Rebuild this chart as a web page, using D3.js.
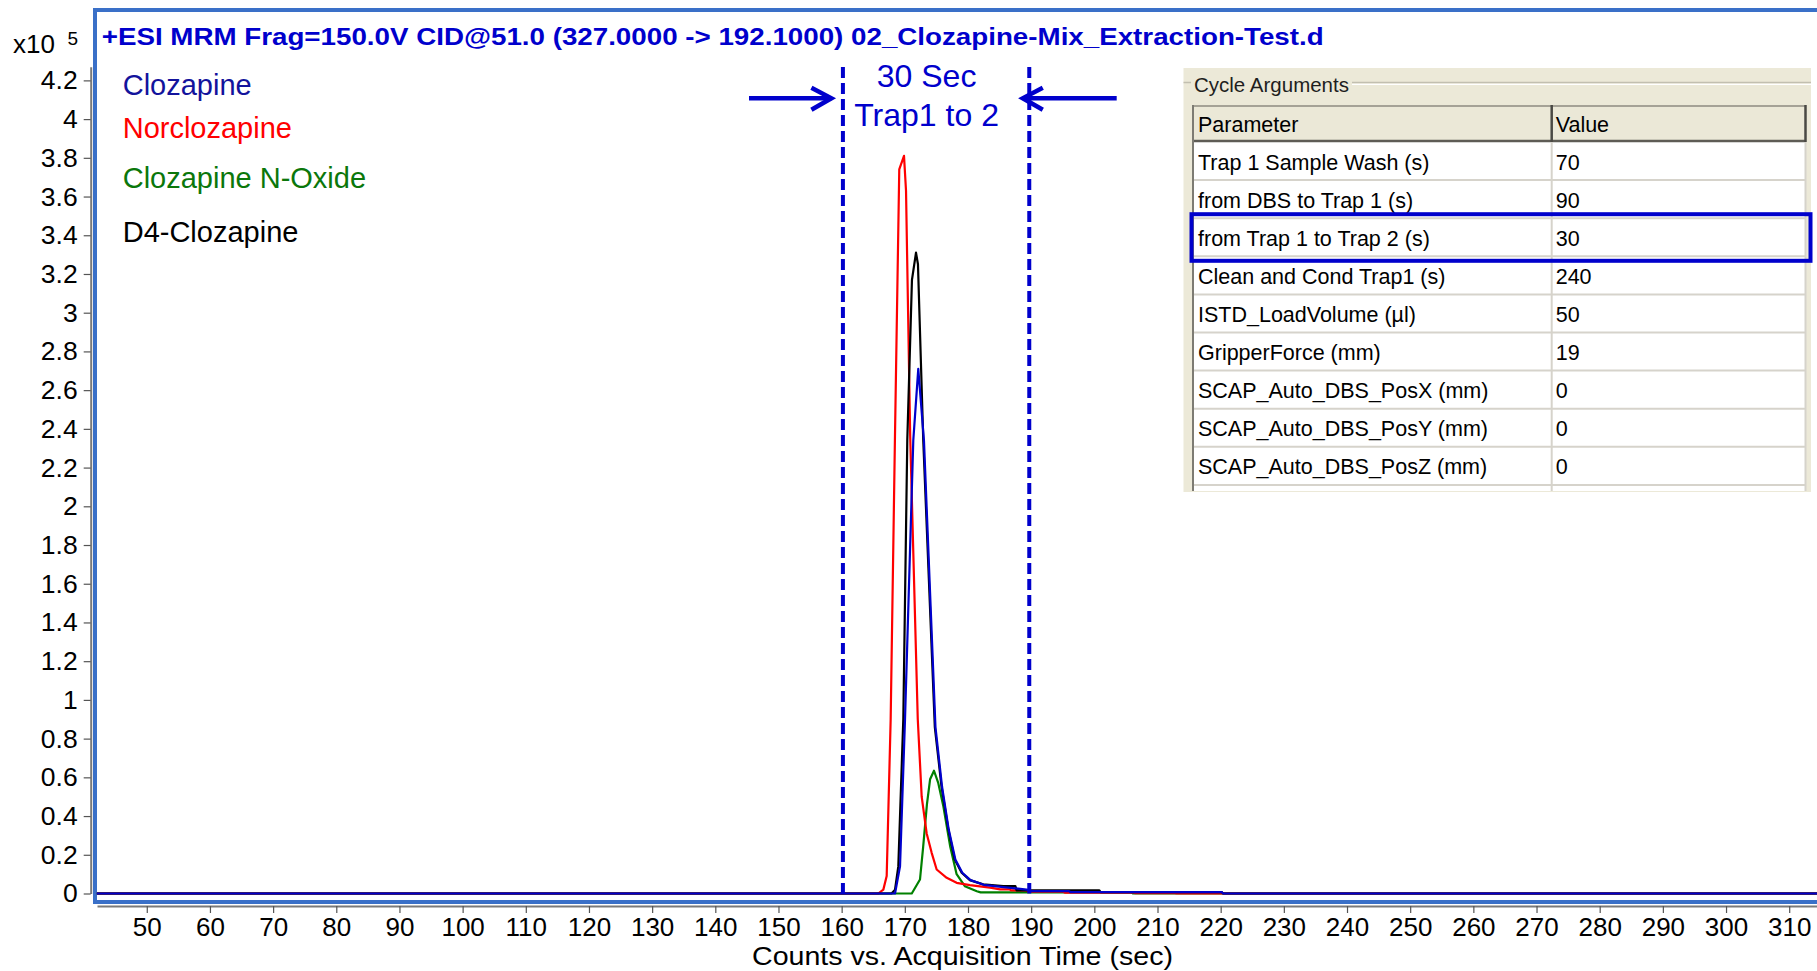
<!DOCTYPE html>
<html><head><meta charset="utf-8">
<script src="https://cdn.jsdelivr.net/npm/d3@7"></script>
<style>
html,body{margin:0;padding:0;background:#fff;}
svg{display:block;font-family:"Liberation Sans",Arial,Helvetica,sans-serif;}
</style></head><body>
<svg id="chart" width="1817" height="971"></svg>
<script>
// ---------------- DATA ----------------
const xTicks = [50,60,70,80,90,100,110,120,130,140,150,160,170,180,190,200,210,220,230,240,250,260,270,280,290,300,310];
const yTicks = [0,0.2,0.4,0.6,0.8,1,1.2,1.4,1.6,1.8,2,2.2,2.4,2.6,2.8,3,3.2,3.4,3.6,3.8,4,4.2];
const yTickLabels = ["0","0.2","0.4","0.6","0.8","1","1.2","1.4","1.6","1.8","2","2.2","2.4","2.6","2.8","3","3.2","3.4","3.6","3.8","4","4.2"];

const seriesNames = ["Clozapine","Norclozapine","Clozapine N-Oxide","D4-Clozapine"];

// Clozapine (x10^5 counts)
const timeClozapine = [42.1,168.45,169.24,170.03,171.34,172.13,173.03,174.85,175.9,176.95,178.0,179.1,180.4,182.5,185.6,189.3,190.0,196.0,196.2,220.2,220.4,314.4];
const valClozapine  = [0,0,0.14,0.90,2.34,2.71,2.34,0.86,0.55,0.33,0.176,0.107,0.069,0.045,0.033,0.020,0.012,0.012,0.007,0.007,0,0];

// Norclozapine
const timeNorclozapine = [42.1,165.8,166.6,167.13,167.76,168.44,169.12,169.87,170.19,170.85,172.05,172.67,173.46,174.25,175.04,176.63,178.2,180.3,183.5,185.1,186.6,186.8,189.3,189.5,195.1,195.3,206.2,206.4,212.8,213.0,314.4];
const valNorclozapine  = [0,0,0.02,0.09,0.90,2.36,3.74,3.81,3.63,2.36,0.90,0.50,0.31,0.21,0.124,0.081,0.055,0.043,0.030,0.021,0.021,0.016,0.016,0.009,0.009,0.005,0.005,0.002,0.002,0,0];

// Clozapine N-Oxide
const timeNOxide = [42.1,171.1,172.4,172.9,173.5,174.0,174.62,175.3,176.1,177.2,178.2,179.5,181.4,182.0,205.9,206.1,314.4];
const valNOxide  = [0,0,0.072,0.24,0.46,0.59,0.634,0.57,0.45,0.24,0.10,0.038,0.012,0.006,0.006,0,0];

// D4-Clozapine
const timeD4 = [42.1,167.9,168.45,168.97,169.76,170.39,171.13,171.77,172.08,172.92,174.75,175.8,176.9,177.9,179.0,180.3,182.4,185.6,187.5,187.7,200.8,201.0,220.2,220.4,314.4];
const valD4  = [0,0,0.02,0.14,0.90,2.34,3.17,3.31,3.25,2.34,0.86,0.555,0.33,0.176,0.107,0.069,0.047,0.038,0.038,0.016,0.016,0.007,0.007,0,0];

const markerTimes = [160.2, 189.7];
const annotationLines = ["30 Sec","Trap1 to 2"];

const titleText = "+ESI MRM Frag=150.0V CID@51.0 (327.0000 -> 192.1000) 02_Clozapine-Mix_Extraction-Test.d";
const xAxisTitle = "Counts vs. Acquisition Time (sec)";

const tableTitle = "Cycle Arguments";
const tableHeaders = ["Parameter","Value"];
const tableParams = ["Trap 1 Sample Wash (s)","from DBS to Trap 1 (s)","from Trap 1 to Trap 2 (s)","Clean and Cond Trap1 (s)","ISTD_LoadVolume (\u00b5l)","GripperForce (mm)","SCAP_Auto_DBS_PosX (mm)","SCAP_Auto_DBS_PosY (mm)","SCAP_Auto_DBS_PosZ (mm)"];
const tableValues = ["70","90","30","240","50","19","0","0","0"];
const highlightRow = 2;

// ---------------- STYLE ----------------
const traceColors = {"Clozapine":"#0000cc","Norclozapine":"#ff0000","Clozapine N-Oxide":"#008000","D4-Clozapine":"#000000"};
const legendColors = {"Clozapine":"#13139c","Norclozapine":"#ff0000","Clozapine N-Oxide":"#0b770b","D4-Clozapine":"#000000"};
const annBlue = "#0000cc";
const frameBlue = "#3a70c8";

const svg = d3.select("#chart");
const W = 1817, H = 971;

const x = d3.scaleLinear().domain([42.12, 314.4]).range([97, 1817]);
const y0 = 893.5, perUnit = 193.6;
const y = d3.scaleLinear().domain([0, 4.27]).range([y0, y0 - 4.27*perUnit]);

// frame
svg.append("path").attr("d", `M${W+5},10 H95 V902 H${W+5}`)
  .attr("fill","none").attr("stroke",frameBlue).attr("stroke-width",4);

// y axis
const yAxis = svg.append("g").attr("transform","translate(90.7,0)")
  .call(d3.axisLeft(y).tickValues(yTicks).tickFormat((d,i)=>yTickLabels[i]).tickSize(7).tickSizeOuter(0).tickPadding(6));
yAxis.select(".domain").attr("stroke","#7a7a7a").attr("stroke-width",2);
yAxis.selectAll(".tick line").attr("stroke","#555").attr("stroke-width",1.2);
yAxis.selectAll("text").attr("font-size",26.5).attr("fill","#000").attr("font-family","Liberation Sans, Arial, sans-serif");

// x axis
const xAxis = svg.append("g").attr("transform","translate(0,906)")
  .call(d3.axisBottom(x).tickValues(xTicks).tickSize(7).tickSizeOuter(0).tickPadding(5));
xAxis.select(".domain").attr("stroke","#7a7a7a").attr("stroke-width",2);
xAxis.selectAll(".tick line").attr("stroke","#555").attr("stroke-width",1.2);
xAxis.selectAll("text").attr("font-size",26).attr("fill","#000").attr("font-family","Liberation Sans, Arial, sans-serif");

// x10^5
svg.append("text").attr("x",13).attr("y",53.3).attr("font-size",26).attr("fill","#000").text("x10");
svg.append("text").attr("x",67.5).attr("y",45).attr("font-size",19).attr("fill","#000").text("5");

// x axis title
svg.append("text").attr("x",752).attr("y",965).attr("font-size",25).attr("fill","#000")
  .attr("textLength",421).attr("lengthAdjust","spacingAndGlyphs").text(xAxisTitle);

// title
svg.append("text").attr("x",101.7).attr("y",45).attr("font-size",23).attr("font-weight","bold").attr("fill",annBlue)
  .attr("textLength",1222).attr("lengthAdjust","spacingAndGlyphs").text(titleText);

// legend
const legendY = [95, 138.3, 188.3, 241.7];
seriesNames.forEach((n,i)=>{
  svg.append("text").attr("x",122.7).attr("y",legendY[i]).attr("font-size",29).attr("fill",legendColors[n]).text(n);
});

// traces
const series = [
  {name:"Clozapine N-Oxide", t:timeNOxide, v:valNOxide},
  {name:"Norclozapine", t:timeNorclozapine, v:valNorclozapine},
  {name:"D4-Clozapine", t:timeD4, v:valD4},
  {name:"Clozapine", t:timeClozapine, v:valClozapine}
];
const line = d3.line().x(d=>x(d[0])).y(d=>y(d[1]));
series.forEach(s=>{
  const pts = s.t.map((t,i)=>[t, s.v[i]]);
  svg.append("path").datum(pts).attr("d",line).attr("fill","none")
    .attr("stroke",traceColors[s.name]).attr("stroke-width",2.2).attr("stroke-linejoin","round");
});

// dashed markers
markerTimes.forEach(t=>{
  svg.append("line").attr("x1",x(t)).attr("x2",x(t)).attr("y1",67).attr("y2",y0)
    .attr("stroke",annBlue).attr("stroke-width",4).attr("stroke-dasharray","11,5");
});

// arrows
const ay = 98.3;
const lx = x(markerTimes[0]) - 11.5, rx = x(markerTimes[1]) - 6.5;
svg.append("line").attr("x1",749).attr("x2",lx).attr("y1",ay).attr("y2",ay).attr("stroke",annBlue).attr("stroke-width",4.5);
svg.append("path").attr("d",`M${lx-20},${ay-10.5} L${lx},${ay} L${lx-20},${ay+11.5}`).attr("fill","none").attr("stroke",annBlue).attr("stroke-width",4.5);
svg.append("line").attr("x1",rx).attr("x2",1116.7).attr("y1",ay).attr("y2",ay).attr("stroke",annBlue).attr("stroke-width",4.5);
svg.append("path").attr("d",`M${rx+20},${ay-10.5} L${rx},${ay} L${rx+20},${ay+11.5}`).attr("fill","none").attr("stroke",annBlue).attr("stroke-width",4.5);

// annotation text
const annX = 926.6;
svg.append("text").attr("x",annX).attr("y",87.3).attr("text-anchor","middle").attr("font-size",32).attr("fill",annBlue).text(annotationLines[0]);
svg.append("text").attr("x",annX).attr("y",126).attr("text-anchor","middle").attr("font-size",32).attr("fill",annBlue).text(annotationLines[1]);

// ---------------- TABLE PANEL ----------------
const tp = svg.append("g").attr("font-size",21.5).attr("fill","#000");
const pL = 1183.5, pR = 1811, pT = 68, pB = 492;
tp.append("rect").attr("x",pL).attr("y",pT).attr("width",pR-pL).attr("height",pB-pT).attr("fill","#ece9d8");
// groupbox line
tp.append("line").attr("x1",pL).attr("x2",1191).attr("y1",82.5).attr("y2",82.5).attr("stroke","#c2bfb0").attr("stroke-width",1.5);
tp.append("line").attr("x1",1352).attr("x2",pR).attr("y1",82.5).attr("y2",82.5).attr("stroke","#c2bfb0").attr("stroke-width",1.5);
tp.append("line").attr("x1",1352).attr("x2",pR).attr("y1",84.3).attr("y2",84.3).attr("stroke","#ffffff").attr("stroke-width",1.2);
tp.append("text").attr("x",1194).attr("y",91.7).attr("font-size",20.5).attr("fill","#1e1e1e").text(tableTitle);

const tL = 1193, tR = 1805.5, tDiv = 1551.7, hT = 105, hB = 142, rowH = 38.1;
// white body
tp.append("rect").attr("x",tL).attr("y",hB).attr("width",tR-tL).attr("height",pB-1-hB).attr("fill","#ffffff");
// header
tp.append("rect").attr("x",tL).attr("y",hT).attr("width",tR-tL).attr("height",hB-hT).attr("fill","#ebe8d7");
tp.append("line").attr("x1",tL).attr("x2",tR).attr("y1",hT+1).attr("y2",hT+1).attr("stroke","#a5a296").attr("stroke-width",2);
tp.append("line").attr("x1",tL).attr("x2",tR).attr("y1",hB-1).attr("y2",hB-1).attr("stroke","#5e5c55").attr("stroke-width",2.5);
tp.append("line").attr("x1",tDiv).attr("x2",tDiv).attr("y1",hT).attr("y2",hB).attr("stroke","#4a4944").attr("stroke-width",2.5);
tp.append("line").attr("x1",tR).attr("x2",tR).attr("y1",hT).attr("y2",hB).attr("stroke","#4a4944").attr("stroke-width",2.5);
tableHeaders.forEach((h,i)=>{
  tp.append("text").attr("x", i===0 ? tL+5 : tDiv+4).attr("y",hB-10.5).text(h);
});
// rows
tableParams.forEach((p,i)=>{
  const top = hB + i*rowH;
  tp.append("line").attr("x1",tL).attr("x2",tR).attr("y1",top+rowH).attr("y2",top+rowH).attr("stroke","#d6d3cb").attr("stroke-width",2);
  tp.append("text").attr("x",tL+5).attr("y",top+27.5).text(p);
  tp.append("text").attr("x",tDiv+4).attr("y",top+27.5).text(tableValues[i]);
});
// body column lines
tp.append("line").attr("x1",tDiv).attr("x2",tDiv).attr("y1",hB).attr("y2",pB-1).attr("stroke","#d6d3cb").attr("stroke-width",2);
tp.append("line").attr("x1",tR).attr("x2",tR).attr("y1",hB).attr("y2",pB-1).attr("stroke","#d6d3cb").attr("stroke-width",2);
tp.append("line").attr("x1",tL).attr("x2",tL).attr("y1",hT).attr("y2",pB-1).attr("stroke","#7d7b73").attr("stroke-width",2);
// highlight
const hlTop = hB + highlightRow*rowH;
tp.append("rect").attr("x",1191.5).attr("y",hlTop-4).attr("width",619).attr("height",rowH+8.5)
  .attr("fill","none").attr("stroke",annBlue).attr("stroke-width",4);
</script>
</body></html>
